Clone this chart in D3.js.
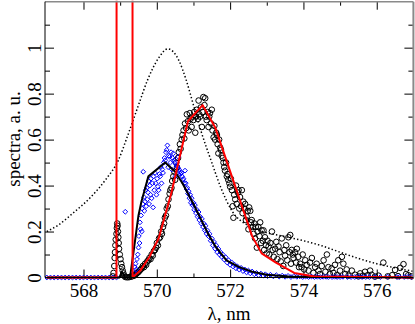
<!DOCTYPE html>
<html>
<head>
<meta charset="utf-8">
<script src="https://cdn.jsdelivr.net/npm/d3@7"></script>
<style>
body { margin: 0; background: #fff; }
</style>
</head>
<body>
<div id="chart"></div>
<script>

// ---- data ----
var xMajorTicks = [568, 570, 572, 574, 576];
var xMinorTicks = [569, 571, 573, 575];
var yMajorTicks = [0, 0.2, 0.4, 0.6, 0.8, 1];
var yMinorTicks = [0.1, 0.3, 0.5, 0.7, 0.9, 1.1];
var yTickLabels = ["0", "0.2", "0.4", "0.6", "0.8", "1"];

// dotted reference profile
var dottedCurve = [
  [567.0,0.20],[567.3,0.227],[567.75,0.285],[568.2,0.35],[568.6,0.425],[568.95,0.51],
  [569.2,0.615],[569.5,0.75],[569.75,0.86],[570.05,0.955],[570.3,0.995],[570.6,0.945],
  [570.8,0.86],[571.0,0.75],[571.2,0.64],[571.5,0.5],[571.75,0.39],[572.05,0.29],
  [572.5,0.225],[573.0,0.195],[573.5,0.178],[574.0,0.16],[574.5,0.138],[575.0,0.11],
  [575.5,0.083],[576.0,0.06],[576.5,0.042],[577.0,0.027]
];

// black solid line (fit of blue)
var blackLine = [
  [567.0,0],[568.98,0],[569.05,0.025],[569.13,0],[569.27,0],[569.5,0.27],[569.58,0.33],
  [569.77,0.44],[570.23,0.5],[570.5,0.46],[570.7,0.41],[571.0,0.32],[571.4,0.19],
  [571.6,0.135],[571.9,0.075],[572.25,0.045],[572.6,0.025],[573.0,0.012],[573.6,0.004],[577.0,0]
];

// red solid line (fit of circles), spike runs off the top
var redLine = [
  [567.0,0],[568.9,0],[568.91,5],[569.33,5],[569.34,0],[569.55,0.03],[569.8,0.09],
  [570.05,0.17],[570.4,0.37],[570.85,0.68],[571.25,0.75],[571.6,0.65],[572.6,0.18],
  [572.86,0.105],[573.25,0.065],[573.75,0.02],[574.3,0.004],[577.0,0]
];

// black open circles
var circles = [
  [568.80,0.005],[568.82,0.02],[568.84,0.05],[568.85,0.085],[568.86,0.11],[568.87,0.14],[568.88,0.165],
  [568.90,0.19],[568.91,0.215],[568.92,0.235],[568.93,0.225],[568.94,0.2],[568.95,0.175],[568.96,0.15],
  [568.97,0.125],[568.99,0.1],[569.01,0.08],[569.03,0.06],[569.05,0.045],[569.07,0.03],[569.09,0.018],
  [569.11,0.008],[569.14,0.002],[569.18,0],[569.22,0],[569.26,0.002],[569.30,0.004],[569.34,0.006],
  [569.38,0.008],[569.41,0.012],[569.44,0.016],[569.47,0.02],[569.50,0.024],[569.53,0.03],[569.56,0.035],
  [569.59,0.04],[569.62,0.05],[569.65,0.045],[569.68,0.06],[569.71,0.055],[569.74,0.07],[569.77,0.075],
  [569.80,0.085],[569.83,0.08],[569.86,0.1],[569.89,0.095],[569.92,0.115],[569.95,0.12],[569.98,0.13],
  [570.00,0.15],[570.03,0.14],[570.06,0.17],[570.09,0.175],[570.12,0.2],[570.14,0.19],[570.17,0.22],
  [570.20,0.235],[570.22,0.26],[570.25,0.27],[570.27,0.3],[570.30,0.31],[570.32,0.34],[570.35,0.365],
  [570.37,0.38],[570.40,0.39],[570.42,0.42],[570.45,0.44],[570.48,0.46],[570.50,0.425],[570.53,0.5],
  [570.55,0.48],[570.58,0.52],[570.60,0.545],[570.63,0.58],[570.65,0.56],[570.68,0.6],[570.70,0.62],
  [570.73,0.64],[570.75,0.605],[570.77,0.67],[570.80,0.65],[570.82,0.71],[570.85,0.68],[570.87,0.64],
  [570.90,0.715],[570.92,0.69],[570.95,0.655],[570.97,0.7],[571.00,0.685],[571.02,0.72],[571.05,0.63],
  [571.07,0.7],[571.09,0.73],[571.12,0.69],[571.14,0.77],[571.16,0.71],[571.18,0.7],[571.20,0.74],
  [571.23,0.655],[571.25,0.72],[571.27,0.785],[571.30,0.75],[571.32,0.78],[571.34,0.7],[571.36,0.685],
  [571.39,0.72],[571.41,0.655],[571.43,0.7],[571.45,0.715],[571.48,0.67],[571.50,0.73],[571.52,0.64],
  [571.55,0.61],[571.57,0.66],[571.59,0.6],[571.62,0.63],[571.64,0.62],[571.66,0.58],[571.68,0.54],
  [571.70,0.6],[571.73,0.565],[571.75,0.555],[571.77,0.53],[571.80,0.52],[571.82,0.5],[571.84,0.48],
  [571.86,0.465],[571.89,0.5],[571.91,0.44],[571.93,0.45],[571.95,0.425],[571.98,0.41],[572.00,0.395],
  [572.02,0.43],[572.05,0.38],[572.07,0.31],[572.09,0.26],[572.11,0.36],[572.14,0.34],[572.16,0.4],
  [572.18,0.32],[572.21,0.37],[572.23,0.38],[572.25,0.3],[572.27,0.35],[572.30,0.31],[572.32,0.38],
  [572.34,0.28],[572.36,0.33],[572.39,0.3],[572.41,0.32],[572.43,0.25],[572.45,0.265],[572.48,0.29],
  [572.50,0.21],[572.52,0.305],[572.55,0.29],[572.57,0.24],[572.59,0.25],[572.62,0.22],[572.64,0.19],
  [572.66,0.235],[572.68,0.17],[572.70,0.22],[572.73,0.13],[572.75,0.2],[572.77,0.22],[572.80,0.18],
  [572.82,0.24],[572.84,0.15],[572.86,0.205],[572.89,0.16],[572.91,0.205],[572.93,0.12],[572.95,0.175],
  [572.98,0.14],[573.00,0.105],[573.02,0.16],[573.05,0.135],[573.07,0.1],[573.10,0.15],[573.14,0.2],
  [573.16,0.12],[573.19,0.09],[573.23,0.125],[573.26,0.155],[573.29,0.08],[573.32,0.135],[573.35,0.11],
  [573.38,0.07],[573.41,0.17],[573.45,0.05],[573.48,0.12],[573.50,0.095],[573.53,0.14],[573.56,0.075],
  [573.59,0.175],[573.62,0.11],[573.64,0.185],[573.66,0.06],[573.68,0.12],[573.71,0.1],[573.73,0.085],
  [573.77,0.11],[573.80,0.065],[573.82,0.125],[573.86,0.09],[573.88,0.045],[573.91,0.06],[573.95,0.045],
  [573.98,0.1],[574.02,0.035],[574.05,0.075],[574.09,0.055],[574.14,0.03],[574.18,0.065],[574.23,0.085],
  [574.27,0.02],[574.32,0.045],[574.36,0.06],[574.41,0.03],[574.45,0.015],[574.50,0.05],[574.55,0.075],
  [574.60,0.025],[574.64,0.1],[574.68,0.045],[574.72,0.015],[574.77,0.04],[574.82,0.02],[574.86,0.055],
  [574.91,0.01],[574.95,0.075],[575.00,0.03],[575.05,0.09],[575.09,0.06],[575.14,0.015],[575.18,0.035],
  [575.23,0.008],[575.32,0.03],[575.41,0.012],[575.50,0.005],[575.55,0.018],[575.62,0.008],[575.68,0.025],
  [575.75,0.01],[575.82,0.03],[575.86,0.012],[575.95,0.004],[576.05,0.008],[576.18,0.065],[576.30,0.005],
  [576.42,0.01],[576.50,0.033],[576.58,0.006],[576.64,0.042],[576.73,0.058],[576.80,0.015],[576.86,0.01],
  [576.95,0.005]
];

// blue open diamonds
var diamonds = [
  [567.0,0],[567.1,0],[567.2,0],[567.3,0],[567.4,0],[567.5,0],[567.6,0],[567.7,0],[567.8,0],[567.9,0],
  [568.0,0],[568.1,0],[568.2,0],[568.3,0],[568.4,0],[568.5,0],[568.6,0],[568.7,0],[568.8,0],[568.9,0],
  [569.14,0.286],
  [569.38,0.02],[569.40,0.045],[569.42,0.06],[569.44,0.035],[569.46,0.08],[569.48,0.1],[569.50,0.13],
  [569.51,0.18],[569.53,0.15],[569.54,0.24],[569.56,0.21],[569.57,0.27],[569.59,0.2],[569.60,0.3],
  [569.62,0.32],[569.63,0.46],[569.65,0.35],[569.66,0.29],[569.68,0.33],[569.70,0.38],[569.71,0.31],
  [569.73,0.39],[569.74,0.34],[569.76,0.37],[569.78,0.42],[569.79,0.32],[569.81,0.4],[569.83,0.36],
  [569.84,0.43],[569.86,0.345],[569.88,0.41],[569.90,0.305],[569.91,0.44],[569.93,0.38],[569.95,0.455],
  [569.97,0.41],[569.99,0.36],[570.01,0.43],[570.03,0.395],[570.05,0.38],[570.07,0.45],[570.09,0.44],
  [570.11,0.48],[570.13,0.41],[570.15,0.47],[570.17,0.455],[570.19,0.5],[570.21,0.52],[570.23,0.51],
  [570.25,0.545],[570.27,0.555],[570.29,0.575],[570.31,0.48],[570.33,0.53],[570.35,0.525],[570.37,0.5],
  [570.39,0.545],[570.41,0.47],[570.43,0.52],[570.45,0.54],[570.47,0.51],[570.49,0.5],[570.51,0.44],
  [570.53,0.49],[570.55,0.485],[570.57,0.48],[570.59,0.525],[570.61,0.47],[570.63,0.46],[570.65,0.45],
  [570.67,0.455],[570.69,0.44],[570.71,0.425],[570.73,0.43],[570.75,0.41],[570.77,0.465],[570.79,0.41],
  [570.81,0.385],[570.83,0.39],[570.85,0.365],[570.87,0.375],[570.89,0.345],[570.91,0.36],[570.93,0.325],
  [570.95,0.345],[570.97,0.315],[571.00,0.325],[571.02,0.295],[571.04,0.315],[571.07,0.28],[571.09,0.295],
  [571.11,0.265],[571.14,0.285],[571.16,0.25],[571.18,0.265],[571.21,0.235],[571.23,0.255],[571.26,0.22],
  [571.28,0.235],[571.31,0.205],[571.33,0.225],[571.36,0.19],[571.38,0.205],[571.41,0.18],[571.44,0.19],
  [571.47,0.16],[571.50,0.17],[571.53,0.14],[571.56,0.155],[571.59,0.125],[571.62,0.14],[571.65,0.11],
  [571.68,0.125],[571.71,0.1],[571.74,0.11],[571.77,0.09],[571.80,0.1],[571.84,0.078],[571.88,0.088],
  [571.92,0.065],[571.96,0.075],[572.00,0.055],[572.04,0.066],[572.08,0.048],[572.12,0.056],[572.16,0.04],
  [572.20,0.048],[572.25,0.034],[572.30,0.042],[572.35,0.028],[572.40,0.035],[572.45,0.022],[572.50,0.03],
  [572.55,0.018],[572.60,0.026],[572.66,0.014],[572.72,0.02],[572.78,0.01],[572.84,0.017],[572.90,0.008],
  [572.96,0.014],[573.02,0.006],[573.10,0.012],[573.18,0.005],[573.26,0.01],[573.34,0.004],[573.42,0.008],
  [573.50,0.003],[573.58,0.007],[573.66,0.002],[573.74,0.006],[573.82,0.003],[573.90,0.005],[573.98,0.002],
  [574.06,0.004],[574.14,0.002],[574.22,0.004],[574.30,0.002],[574.38,0.003],[574.46,0.002],[574.54,0.003],
  [574.62,0.003],[574.68,0.002],[574.78,0.002],[574.85,0.003],[574.92,0.002],[575.00,0.002],[575.08,0.003],
  [575.20,0.002],[575.30,0.002],[575.40,0.002],[575.50,0.003],[575.60,0.002],[575.70,0.002],[575.80,0.002],
  [575.95,0.002],[576.10,0.002],[576.30,0.003],[576.55,0.002],[576.62,0.002],[576.75,0.002],[576.85,0.003],
  [576.95,0.002]
];

// ---- chart area ----
var margin = {top: 1.7, right: 1.6, bottom: 46.5, left: 45},
    width = 415 - margin.left - margin.right,
    height = 324 - margin.top - margin.bottom;

var x = d3.scaleLinear().domain([566.95, 577]).range([0, width]);
var y = d3.scaleLinear().domain([0, 1.2]).range([height, 0]);

var svg = d3.select("#chart").append("svg")
    .attr("width", width + margin.left + margin.right)
    .attr("height", height + margin.top + margin.bottom);

svg.append("style").text(`
    text { font-family: "Liberation Serif", "Times New Roman", serif; fill: #000; }
    .axis path { display: none; }
    .axis line { stroke: #000; stroke-width: 1px; }
    .axis text { font-size: 19px; }
    .dotted { fill: none; stroke: #000; stroke-width: 1.5px; stroke-dasharray: 1.4,2.2; }
    .circ { fill: none; stroke: #000; stroke-width: 1px; }
    .diam { fill: none; stroke: #0000ff; stroke-width: 1px; }
    .fitBlack { fill: none; stroke: #000; stroke-width: 2px; stroke-linejoin: round; }
    .fitRed { fill: none; stroke: #ff0000; stroke-width: 2px; stroke-linejoin: round; }
`);

var graph = svg.append("g")
    .attr("transform", "translate(" + margin.left + "," + margin.top + ")");

graph.append("clipPath").attr("id", "plotclip")
  .append("rect").attr("width", width).attr("height", height + 4).attr("y", -1);

// axes (ticks point inward)
graph.append("g").attr("class", "axis")
    .attr("transform", "translate(0," + height + ")")
    .call(d3.axisBottom(x).tickValues(xMajorTicks).tickSize(-8).tickPadding(6.5)
          .tickFormat(d3.format("d")));
graph.append("g").attr("class", "axis")
    .attr("transform", "translate(0," + height + ")")
    .call(d3.axisBottom(x).tickValues(xMinorTicks).tickSize(-4).tickFormat(""));
graph.append("g").attr("class", "axis")
    .call(d3.axisTop(x).tickValues(xMajorTicks).tickSize(-8).tickFormat(""));
graph.append("g").attr("class", "axis")
    .call(d3.axisTop(x).tickValues(xMinorTicks).tickSize(-4).tickFormat(""));

var yAxisLeft = graph.append("g").attr("class", "axis")
    .call(d3.axisLeft(y).tickValues(yMajorTicks).tickSize(-9)
          .tickFormat(function(d, i) { return yTickLabels[i]; }));
yAxisLeft.selectAll("text")
    .attr("transform", "rotate(-90)")
    .attr("x", 0).attr("y", -4).attr("dy", 0)
    .style("text-anchor", "middle");
graph.append("g").attr("class", "axis")
    .call(d3.axisLeft(y).tickValues(yMinorTicks).tickSize(-5).tickFormat(""));
graph.append("g").attr("class", "axis")
    .attr("transform", "translate(" + width + ",0)")
    .call(d3.axisRight(y).tickValues(yMajorTicks).tickSize(-9).tickFormat(""));
graph.append("g").attr("class", "axis")
    .attr("transform", "translate(" + width + ",0)")
    .call(d3.axisRight(y).tickValues(yMinorTicks).tickSize(-5).tickFormat(""));

// data
var plot = graph.append("g").attr("clip-path", "url(#plotclip)");
var line = d3.line().x(function(d) { return x(d[0]); }).y(function(d) { return y(d[1]); });

plot.append("path").datum(dottedCurve).attr("class", "dotted")
    .attr("d", line.curve(d3.curveMonotoneX));
line.curve(d3.curveLinear);

plot.selectAll(".circ").data(circles).enter().append("circle")
    .attr("class", "circ")
    .attr("cx", function(d) { return x(d[0]); })
    .attr("cy", function(d) { return y(d[1]); })
    .attr("r", 2.8);

plot.selectAll(".diam").data(diamonds).enter().append("path")
    .attr("class", "diam")
    .attr("d", "M0,-2.4L2.4,0L0,2.4L-2.4,0Z")
    .attr("transform", function(d) { return "translate(" + x(d[0]) + "," + y(d[1]) + ")"; });

plot.append("path").datum(blackLine).attr("class", "fitBlack").attr("d", line);
plot.append("path").datum(redLine).attr("class", "fitRed").attr("d", line);

// frame: left/bottom black, top/right gray
graph.append("line").attr("x1", 0).attr("x2", width).attr("y1", 0).attr("y2", 0)
    .attr("stroke", "#8a8a8a").attr("stroke-width", 1.5);
graph.append("line").attr("x1", width).attr("x2", width).attr("y1", 0).attr("y2", height)
    .attr("stroke", "#8a8a8a").attr("stroke-width", 2);
graph.append("line").attr("x1", 0).attr("x2", 0).attr("y1", 0).attr("y2", height)
    .attr("stroke", "#000").attr("stroke-width", 1);
graph.append("line").attr("x1", 0).attr("x2", width).attr("y1", height).attr("y2", height)
    .attr("stroke", "#000").attr("stroke-width", 1);

// axis titles
svg.append("text")
    .attr("x", 229).attr("y", 320)
    .style("text-anchor", "middle").style("font-size", "19px")
    .text("λ, nm");

svg.append("text")
    .attr("transform", "translate(20,139) rotate(-90)")
    .style("text-anchor", "middle").style("font-size", "19px")
    .text("spectra, a. u.");

</script>
</body>
</html>
